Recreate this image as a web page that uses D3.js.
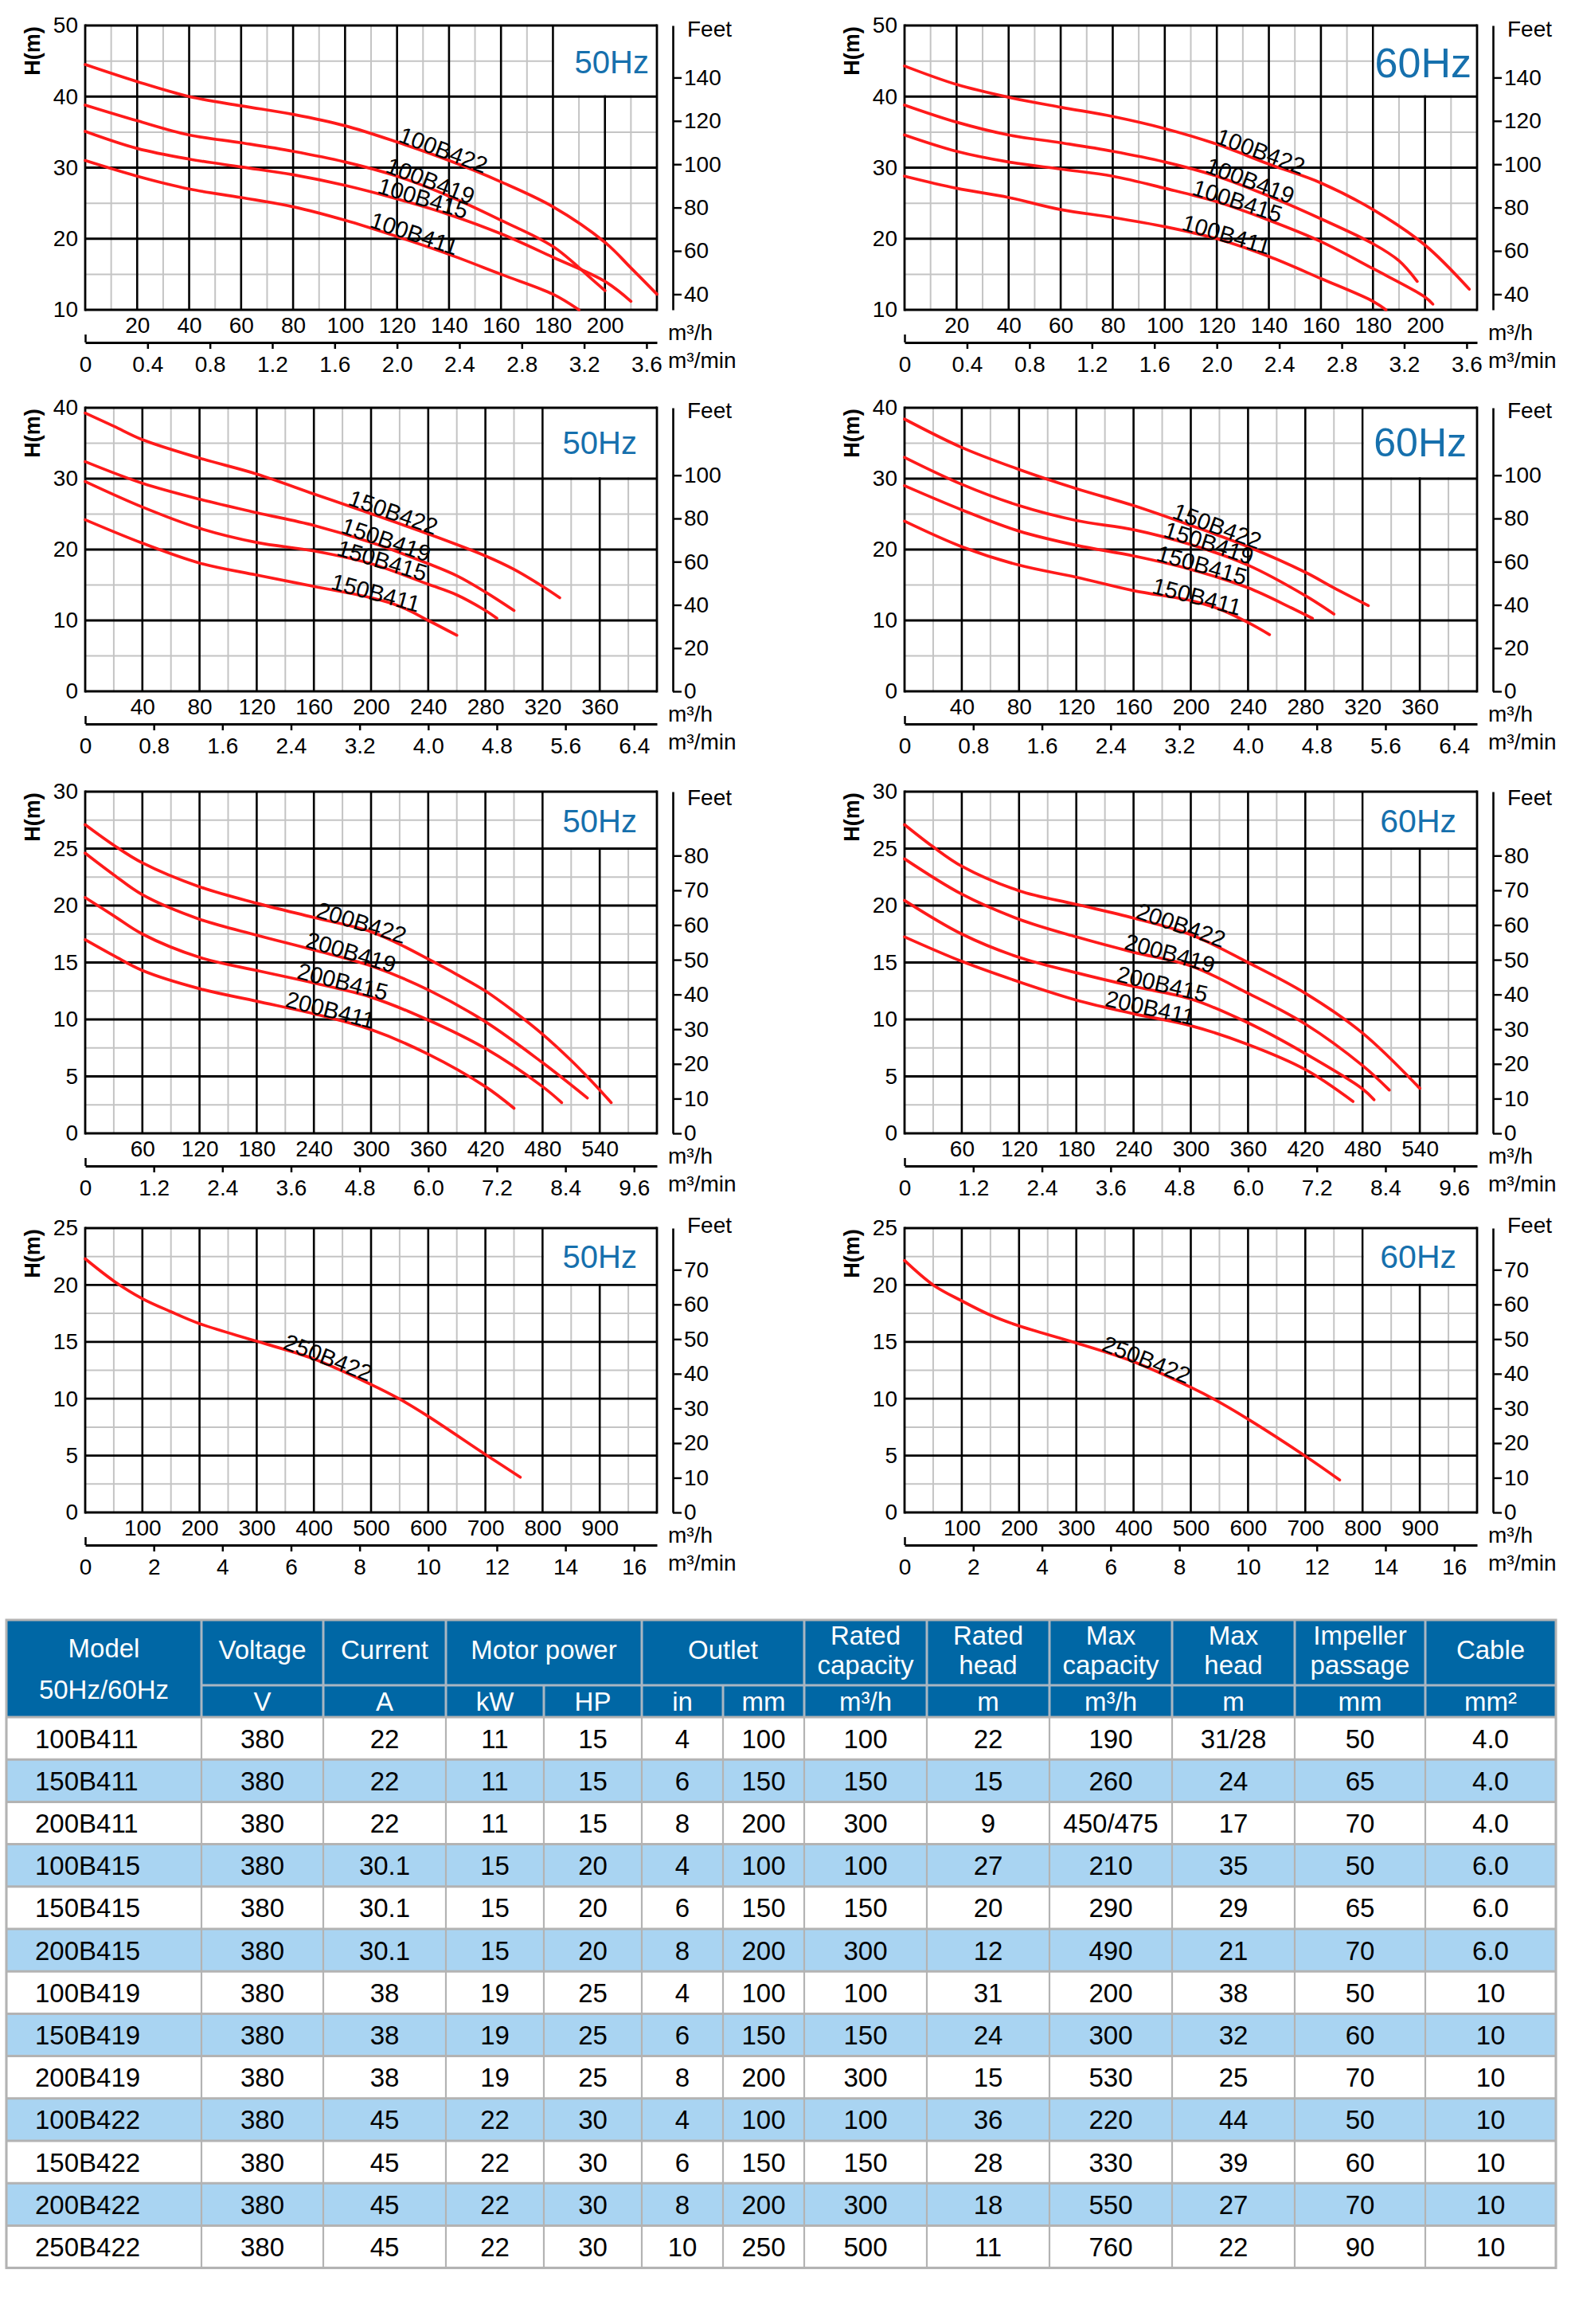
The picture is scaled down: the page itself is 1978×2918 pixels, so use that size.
<!DOCTYPE html>
<html><head><meta charset="utf-8">
<script src="https://cdn.jsdelivr.net/npm/d3@7"></script>
<style>
body{margin:0;background:#fff}
svg{display:block}
text{font-family:"Liberation Sans",Arial,Helvetica,sans-serif}
</style>
</head><body>
<svg id="c" width="1978" height="2918"></svg>
<script>
// ---------------- DATA ----------------
// tick labels
const flowTicks100=[20,40,60,80,100,120,140,160,180,200];
const minTicks100=["0","0.4","0.8","1.2","1.6","2.0","2.4","2.8","3.2","3.6"];
const feetTicks100=[40,60,80,100,120,140];
const headTicks100=[10,20,30,40,50];
const flowTicks150=[40,80,120,160,200,240,280,320,360];
const minTicks150=["0","0.8","1.6","2.4","3.2","4.0","4.8","5.6","6.4"];
const feetTicks150=[0,20,40,60,80,100];
const headTicks150=[0,10,20,30,40];
const flowTicks200=[60,120,180,240,300,360,420,480,540];
const minTicks200=["0","1.2","2.4","3.6","4.8","6.0","7.2","8.4","9.6"];
const feetTicks200=[0,10,20,30,40,50,60,70,80];
const headTicks200=[0,5,10,15,20,25,30];
const flowTicks250=[100,200,300,400,500,600,700,800,900];
const minTicks250=["0","2","4","6","8","10","12","14","16"];
const feetTicks250=[0,10,20,30,40,50,60,70];
const headTicks250=[0,5,10,15,20,25];

// performance curves [flow m3/h, head m]
const p100B422_50=[[0,44.5],[20,42.1],[40,40.0],[60,38.7],[80,37.5],[100,35.9],[120,33.6],[140,31.0],[160,28.0],[180,24.5],[200,19.5],[210,15.9],[220,12.2]];
const p100B419_50=[[0,38.8],[20,36.6],[40,34.6],[60,33.5],[80,32.3],[100,30.8],[120,28.8],[140,26.0],[160,22.6],[180,18.9],[195,14.3],[200,12.7]];
const p100B415_50=[[0,35.1],[20,32.7],[40,31.2],[60,30.1],[80,29.0],[100,27.5],[120,25.6],[140,23.4],[160,20.7],[180,17.4],[200,14.0],[210,11.2]];
const p100B411_50=[[0,31.0],[20,28.8],[40,27.0],[60,25.8],[80,24.5],[100,22.6],[120,20.3],[140,17.8],[160,15.0],[180,12.2],[190,10.0]];

const p100B422_60=[[0,44.3],[20,41.7],[40,39.9],[60,38.5],[80,37.2],[100,35.5],[120,33.3],[140,30.5],[160,27.85],[180,24.1],[200,19.1],[217,12.9]];
const p100B419_60=[[0,38.8],[20,36.4],[40,34.6],[60,33.5],[80,32.3],[100,30.8],[120,28.8],[140,26.0],[160,22.8],[180,19.3],[190,16.9],[197,14.0]];
const p100B415_60=[[0,34.6],[20,32.3],[40,30.8],[60,29.8],[80,28.8],[100,27.1],[120,25.2],[140,22.6],[160,19.6],[180,15.8],[200,11.8],[203,10.8]];
const p100B411_60=[[0,28.8],[20,27.1],[40,25.8],[60,24.1],[80,23.0],[100,21.7],[120,20.0],[140,17.5],[160,14.4],[180,11.2],[185,10.0]];

const p150B422_50=[[0,39.25],[20,37.4],[40,35.5],[80,32.9],[120,30.65],[160,27.85],[200,25.05],[240,22.2],[280,19.1],[300,17.2],[320,14.8],[332,13.2]];
const p150B419_50=[[0,32.4],[40,29.35],[80,27.1],[120,25.2],[160,23.4],[200,21.0],[240,18.0],[260,16.3],[280,14.0],[300,11.4]];
const p150B415_50=[[0,29.6],[40,26.0],[80,23.0],[120,21.0],[160,19.8],[200,18.0],[240,15.1],[260,13.6],[280,11.4],[288,10.3]];
const p150B411_50=[[0,24.2],[40,20.9],[80,18.1],[120,16.4],[160,14.8],[200,13.2],[220,12.0],[240,10.0],[260,7.9]];

const p150B422_60=[[0,38.4],[40,34.4],[80,31.3],[120,28.6],[160,26.2],[200,23.4],[240,20.4],[280,16.8],[300,14.6],[324,12.1]];
const p150B419_60=[[0,33.0],[40,29.2],[80,26.2],[120,24.1],[160,22.8],[200,20.7],[240,17.8],[280,13.5],[300,10.9]];
const p150B415_60=[[0,29.0],[40,25.6],[80,22.6],[120,20.6],[160,19.1],[200,17.2],[240,14.6],[270,11.8],[285,10.3]];
const p150B411_60=[[0,24.0],[40,20.4],[80,17.8],[120,16.1],[160,14.2],[200,12.8],[220,11.6],[240,9.7],[255,8.0]];

const p200B422_50=[[0,27.1],[30,25.3],[60,23.75],[120,21.65],[180,20.2],[240,18.95],[300,17.7],[330,16.6],[360,15.3],[390,13.95],[420,12.5],[450,10.7],[480,8.7],[510,6.4],[530,4.7],[552,2.7]];
const p200B419_50=[[0,24.6],[30,22.7],[60,20.95],[120,18.8],[180,17.4],[240,16.1],[300,14.7],[360,12.6],[420,9.8],[480,6.2],[527,3.1]];
const p200B415_50=[[0,20.7],[30,19.1],[60,17.5],[120,15.45],[180,14.3],[240,13.2],[300,11.95],[360,9.95],[420,7.45],[480,4.1],[500,2.7]];
const p200B411_50=[[0,17.0],[30,15.6],[60,14.3],[120,12.7],[180,11.6],[240,10.5],[300,9.1],[360,6.95],[420,4.1],[450,2.2]];

const p200B422_60=[[0,27.1],[30,25.15],[60,23.45],[120,21.3],[180,20.1],[240,18.9],[300,17.45],[360,15.0],[420,12.3],[480,8.8],[540,3.95]];
const p200B419_60=[[0,24.1],[60,21.0],[120,18.8],[180,17.25],[240,15.9],[300,14.7],[360,12.3],[420,9.6],[480,5.95],[508,3.8]];
const p200B415_60=[[0,20.45],[60,17.5],[120,15.45],[180,14.1],[240,12.9],[300,11.8],[360,9.7],[420,7.0],[480,3.9],[492,2.95]];
const p200B411_60=[[0,17.25],[60,15.1],[120,13.3],[180,11.7],[240,10.5],[300,9.45],[360,7.8],[420,5.6],[470,2.8]];

const p250B422_50=[[0,22.3],[50,20.35],[100,18.8],[150,17.65],[200,16.6],[300,15.05],[400,13.5],[500,11.25],[550,9.97],[600,8.45],[700,5.1],[761,3.1]];
const p250B422_60=[[0,22.15],[50,20.0],[100,18.6],[150,17.35],[200,16.4],[300,14.9],[400,13.25],[500,11.0],[540,9.97],[600,8.2],[700,4.95],[760,2.85]];

// table
const models=["100B411","150B411","200B411","100B415","150B415","200B415","100B419","150B419","200B419","100B422","150B422","200B422","250B422"];
const voltage=[380,380,380,380,380,380,380,380,380,380,380,380,380];
const current=["22","22","22","30.1","30.1","30.1","38","38","38","45","45","45","45"];
const powerKW=[11,11,11,15,15,15,19,19,19,22,22,22,22];
const powerHP=[15,15,15,20,20,20,25,25,25,30,30,30,30];
const outletIn=[4,6,8,4,6,8,4,6,8,4,6,8,10];
const outletMm=[100,150,200,100,150,200,100,150,200,100,150,200,250];
const ratedCap=[100,150,300,100,150,300,100,150,300,100,150,300,500];
const ratedHead=[22,15,9,27,20,12,31,24,15,36,28,18,11];
const maxCap=["190","260","450/475","210","290","490","200","300","530","220","330","550","760"];
const maxHead=["31/28","24","17","35","29","21","38","32","25","44","39","27","22"];
const impeller=[50,65,70,50,65,70,50,60,70,50,60,70,90];
const cable=["4.0","4.0","4.0","6.0","6.0","6.0","10","10","10","10","10","10","10"];

// ---------------- LAYOUT ----------------
const W=1978,H=2918;
const svg=d3.select("#c");
svg.append("rect").attr("width",W).attr("height",H).attr("fill","#fff");

const cols=[{left:107,right:825},{left:1136,right:1855}];
const rows=[{top:32,bottom:389},{top:512,bottom:868},{top:994,bottom:1423},{top:1542,bottom:1899}];
const FT=3.2808;
const RED="#ff1a1a", BLUE="#1670ad";

const charts=[
 {col:0,row:0,hz:"50Hz",hzSize:40,hzR:10,hzB:60,xd:[0,220],yd:[10,50],xm:10,ym:5,ft:flowTicks100,mt:minTicks100,fe:feetTicks100,ht:headTicks100,box:[180,40],feetB:14,
  curves:[["100B422",p100B422_50,120],["100B419",p100B419_50,115],["100B415",p100B415_50,112],["100B411",p100B411_50,109]]},
 {col:1,row:0,hz:"60Hz",hzSize:52,hzR:7,hzB:65,xd:[0,220],yd:[10,50],xm:10,ym:5,ft:flowTicks100,mt:minTicks100,fe:feetTicks100,ht:headTicks100,box:[180,40],feetB:14,
  curves:[["100B422",p100B422_60,119],["100B419",p100B419_60,115],["100B415",p100B415_60,110],["100B411",p100B411_60,106]]},
 {col:0,row:1,hz:"50Hz",hzSize:40,hzR:25,hzB:58,xd:[0,400],yd:[0,40],xm:20,ym:5,ft:flowTicks150,mt:minTicks150,fe:feetTicks150,ht:headTicks150,box:[320,30],feetB:13,
  curves:[["150B422",p150B422_50,183],["150B419",p150B419_50,178],["150B415",p150B415_50,175],["150B411",p150B411_50,171]]},
 {col:1,row:1,hz:"60Hz",hzSize:50,hzR:13,hzB:61,xd:[0,400],yd:[0,40],xm:20,ym:5,ft:flowTicks150,mt:minTicks150,fe:feetTicks150,ht:headTicks150,box:[320,30],feetB:13,
  curves:[["150B422",p150B422_60,186],["150B419",p150B419_60,180],["150B415",p150B415_60,175],["150B411",p150B411_60,172]]},
 {col:0,row:2,hz:"50Hz",hzSize:40,hzR:25,hzB:51,xd:[0,600],yd:[0,30],xm:30,ym:2.5,ft:flowTicks200,mt:minTicks200,fe:feetTicks200,ht:headTicks200,box:[480,25],feetB:17,
  curves:[["200B422",p200B422_50,241],["200B419",p200B419_50,230],["200B415",p200B415_50,221],["200B411",p200B411_50,209]]},
 {col:1,row:2,hz:"60Hz",hzSize:41,hzR:26,hzB:51,xd:[0,600],yd:[0,30],xm:30,ym:2.5,ft:flowTicks200,mt:minTicks200,fe:feetTicks200,ht:headTicks200,box:[480,25],feetB:17,
  curves:[["200B422",p200B422_60,241],["200B419",p200B419_60,229],["200B415",p200B415_60,221],["200B411",p200B411_60,209]]},
 {col:0,row:3,hz:"50Hz",hzSize:40,hzR:25,hzB:50,xd:[0,1000],yd:[0,25],xm:50,ym:2.5,ft:flowTicks250,mt:minTicks250,fe:feetTicks250,ht:headTicks250,box:[800,20],feetB:6,
  curves:[["250B422",p250B422_50,344]]},
 {col:1,row:3,hz:"60Hz",hzSize:41,hzR:26,hzB:50,xd:[0,1000],yd:[0,25],xm:50,ym:2.5,ft:flowTicks250,mt:minTicks250,fe:feetTicks250,ht:headTicks250,box:[800,20],feetB:6,
  curves:[["250B422",p250B422_60,342]]}
];

function interp(pts,xv){
  if(xv<=pts[0][0]) return pts[0][1];
  for(let i=1;i<pts.length;i++){
    if(xv<=pts[i][0]){const a=pts[i-1],b=pts[i];return a[1]+(b[1]-a[1])*(xv-a[0])/(b[0]-a[0]);}
  }
  return pts[pts.length-1][1];
}

function styleAxisText(g,size){
  g.selectAll("text").attr("font-size",size).attr("fill","#000")
   .attr("font-family",'"Liberation Sans",Arial,Helvetica,sans-serif');
}

charts.forEach(c=>{
  const L=cols[c.col],R=rows[c.row];
  const x=d3.scaleLinear().domain(c.xd).range([L.left,L.right]);
  const y=d3.scaleLinear().domain(c.yd).range([R.bottom,R.top]);
  const g=svg.append("g");

  // minor grid
  const xMinor=d3.range(c.xd[0]+c.xm,c.xd[1],c.xm*2);
  const yMinor=d3.range(c.yd[0]+c.ym,c.yd[1],c.ym*2);
  g.selectAll(".vm").data(xMinor).join("line")
    .attr("x1",d=>x(d)).attr("x2",d=>x(d)).attr("y1",R.top).attr("y2",R.bottom)
    .attr("stroke","#c4c4c4").attr("stroke-width",2);
  g.selectAll(".hm").data(yMinor).join("line")
    .attr("x1",L.left).attr("x2",L.right).attr("y1",d=>y(d)).attr("y2",d=>y(d))
    .attr("stroke","#c4c4c4").attr("stroke-width",2);
  // major grid
  g.selectAll(".vM").data(c.ft).join("line")
    .attr("x1",d=>x(d)).attr("x2",d=>x(d)).attr("y1",R.top).attr("y2",R.bottom)
    .attr("stroke","#000").attr("stroke-width",2.6);
  // label box
  g.append("rect").attr("x",x(c.box[0])+1.5).attr("y",R.top)
    .attr("width",L.right-x(c.box[0])-1.5).attr("height",y(c.box[1])-R.top-1.5).attr("fill","#fff");
  g.selectAll(".hM").data(c.ht).join("line")
    .attr("x1",L.left).attr("x2",L.right).attr("y1",d=>y(d)).attr("y2",d=>y(d))
    .attr("stroke","#000").attr("stroke-width",2.8);
  // frame verticals
  [L.left,L.right].forEach(px=>g.append("line").attr("x1",px).attr("x2",px)
    .attr("y1",R.top-1.4).attr("y2",R.bottom+1.4).attr("stroke","#000").attr("stroke-width",2.8));

  // curves
  const line=d3.line().x(d=>x(d[0])).y(d=>y(d[1])).curve(d3.curveCatmullRom.alpha(0.5));
  c.curves.forEach(cv=>{
    g.append("path").attr("d",line(cv[1])).attr("fill","none")
      .attr("stroke",RED).attr("stroke-width",3.7).attr("stroke-linecap","round");
  });
  // curve labels
  c.curves.forEach(cv=>{
    const pts=cv[1],xs=cv[2];
    const px0=x(xs),py0=y(interp(pts,xs));
    const x2=Math.min(x.invert(px0+100),pts[pts.length-1][0]);
    const ang=Math.atan2(y(interp(pts,x2))-py0,x(x2)-px0)*180/Math.PI;
    g.append("text").attr("transform",`translate(${px0},${py0}) rotate(${ang})`)
      .attr("y",-1).attr("font-size",29).attr("fill","#000").text(cv[0]);
  });

  // Hz label
  g.append("text").attr("x",L.right-c.hzR).attr("y",R.top+c.hzB)
    .attr("text-anchor","end").attr("font-size",c.hzSize).attr("fill",BLUE).text(c.hz);

  // left head axis
  const ay=g.append("g").attr("transform",`translate(${L.left},0)`)
    .call(d3.axisLeft(y).tickValues(c.ht).tickSize(0).tickPadding(9));
  ay.select(".domain").remove();
  styleAxisText(ay,28);
  // H(m)
  g.append("text").attr("transform",`translate(${L.left-57},${R.top+32}) rotate(-90)`)
    .attr("text-anchor","middle").attr("font-size",27).attr("font-weight","bold").text("H(m)");

  // flow axis m3/h
  const ax=g.append("g").attr("transform",`translate(0,${R.bottom})`)
    .call(d3.axisBottom(x).tickValues(c.ft).tickSize(0).tickPadding(9).tickFormat(d3.format("d")));
  ax.select(".domain").remove();
  styleAxisText(ax,28);
  g.append("text").attr("x",L.right+14).attr("y",R.bottom+38).attr("font-size",28).text("m³/h");

  // m3/min axis
  const xm=d3.scaleLinear().domain([c.xd[0]/60,c.xd[1]/60]).range([L.left,L.right]);
  const am=g.append("g").attr("transform",`translate(0,${R.bottom+41})`)
    .call(d3.axisBottom(xm).tickValues(c.mt.map(Number)).tickFormat((d,i)=>c.mt[i])
      .tickSizeInner(8).tickSizeOuter(0).tickPadding(9));
  am.select(".domain").attr("stroke","#000").attr("stroke-width",3);
  am.selectAll(".tick line").attr("stroke","#000").attr("stroke-width",2.5)
    .attr("y2",d=>d===0?-10:8);
  styleAxisText(am,28);
  g.append("text").attr("x",L.right+14).attr("y",R.bottom+73).attr("font-size",28).text("m³/min");

  // feet axis
  const yf=d3.scaleLinear().domain([c.yd[0]*FT,c.yd[1]*FT]).range([R.bottom,R.top]);
  const axR=L.right+20;
  const af=g.append("g").attr("transform",`translate(${axR},0)`)
    .call(d3.axisRight(yf).tickValues(c.fe).tickSizeInner(11).tickSizeOuter(0).tickPadding(3));
  af.select(".domain").attr("stroke","#000").attr("stroke-width",2.6);
  af.selectAll(".tick line").attr("stroke","#000").attr("stroke-width",2.4);
  styleAxisText(af,28);
  g.append("text").attr("x",axR+18).attr("y",R.top+c.feetB).attr("font-size",28).text("Feet");
});

// ---------------- TABLE ----------------
const tcols=[8,253,406,560,683,806,908,1010,1164,1318,1472,1626,1790,1954];
const hTop=2034,hMid=2116,hBot=2156,rowH=53.2;
const tableColumns=[models,voltage,current,powerKW,powerHP,outletIn,outletMm,ratedCap,ratedHead,maxCap,maxHead,impeller,cable];
const headTopCells=[[1,2,["Voltage"]],[2,3,["Current"]],[3,5,["Motor power"]],[5,7,["Outlet"]],[7,8,["Rated","capacity"]],
  [8,9,["Rated","head"]],[9,10,["Max","capacity"]],[10,11,["Max","head"]],[11,12,["Impeller","passage"]],[12,13,["Cable"]]];
const unitCells=["V","A","kW","HP","in","mm","m³/h","m","m³/h","m","mm","mm²"];

const tg=svg.append("g");
const rowY=d3.scaleLinear().domain([0,models.length]).range([hBot,hBot+rowH*models.length]);
tg.append("rect").attr("x",tcols[0]).attr("y",hTop).attr("width",tcols[13]-tcols[0]).attr("height",hBot-hTop).attr("fill","#0067a5");
models.forEach((m,i)=>{
  tg.append("rect").attr("x",tcols[0]).attr("y",rowY(i)).attr("width",tcols[13]-tcols[0]).attr("height",rowH)
    .attr("fill",i%2===1?"#a9d4f2":"#fff");
});
const HF=33;
// header text
tg.append("text").attr("x",(tcols[0]+tcols[1])/2).attr("y",2081).attr("text-anchor","middle").attr("font-size",HF).attr("fill","#fff").text("Model");
tg.append("text").attr("x",(tcols[0]+tcols[1])/2).attr("y",2133).attr("text-anchor","middle").attr("font-size",HF).attr("fill","#fff").text("50Hz/60Hz");
headTopCells.forEach(hc=>{
  const cx=(tcols[hc[0]]+tcols[hc[1]])/2;
  const ys=hc[2].length===1?[2083]:[2065,2102];
  hc[2].forEach((t,k)=>tg.append("text").attr("x",cx).attr("y",ys[k]).attr("text-anchor","middle")
    .attr("font-size",HF).attr("fill","#fff").text(t));
});
unitCells.forEach((t,k)=>{
  tg.append("text").attr("x",(tcols[k+1]+tcols[k+2])/2).attr("y",2148).attr("text-anchor","middle")
    .attr("font-size",HF).attr("fill","#fff").text(t);
});
// data text
tableColumns.forEach((colv,j)=>{
  colv.forEach((v,i)=>{
    const cy=rowY(i)+rowH/2+12;
    tg.append("text").attr("x",j===0?tcols[0]+36:(tcols[j]+tcols[j+1])/2).attr("y",cy)
      .attr("text-anchor",j===0?"start":"middle").attr("font-size",HF).attr("fill","#000").text(String(v));
  });
});
// header lines
const HL="#a9b6c2";
headTopCells.forEach(hc=>{
  tg.append("line").attr("x1",tcols[hc[0]]).attr("x2",tcols[hc[0]]).attr("y1",hTop).attr("y2",hBot).attr("stroke",HL).attr("stroke-width",3);
});
[4,6].forEach(k=>tg.append("line").attr("x1",tcols[k]).attr("x2",tcols[k]).attr("y1",hMid).attr("y2",hBot).attr("stroke",HL).attr("stroke-width",3));
tg.append("line").attr("x1",tcols[1]).attr("x2",tcols[13]).attr("y1",hMid).attr("y2",hMid).attr("stroke",HL).attr("stroke-width",3);
// body lines
const BL="#b3b3b3";
d3.range(models.length+1).forEach(i=>{
  tg.append("line").attr("x1",tcols[0]).attr("x2",tcols[13]).attr("y1",rowY(i)).attr("y2",rowY(i)).attr("stroke",BL).attr("stroke-width",3);
});
tcols.forEach(cx=>{
  tg.append("line").attr("x1",cx).attr("x2",cx).attr("y1",hBot).attr("y2",rowY(models.length)).attr("stroke",BL).attr("stroke-width",2.2);
});
// outer border
tg.append("rect").attr("x",tcols[0]).attr("y",hTop).attr("width",tcols[13]-tcols[0]).attr("height",rowY(models.length)-hTop)
  .attr("fill","none").attr("stroke",BL).attr("stroke-width",3);
</script>
</body></html>
